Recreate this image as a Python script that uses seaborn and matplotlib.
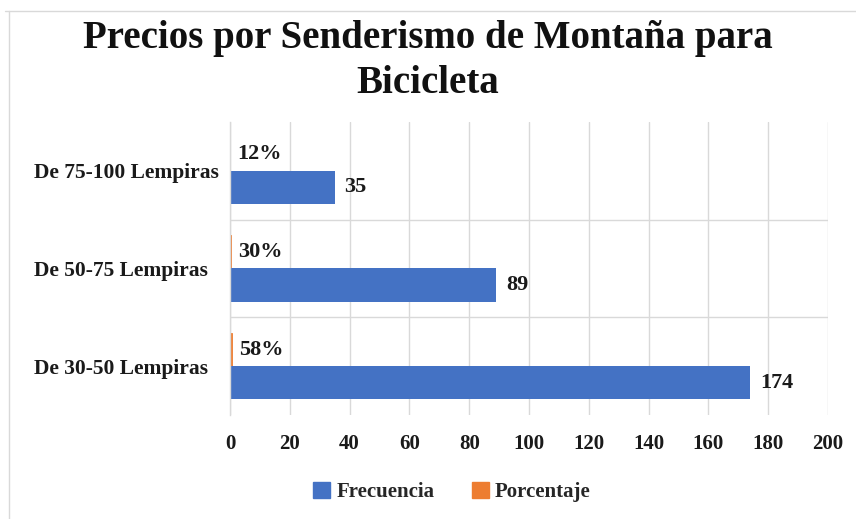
import matplotlib
matplotlib.use("Agg")

import matplotlib.pyplot as plt
import matplotlib.patches as mpatches
import pandas as pd
import seaborn as sns
from matplotlib.lines import Line2D

categories = ["De 75-100 Lempiras", "De 50-75 Lempiras", "De 30-50 Lempiras"]
frecuencia = [35, 89, 174]
porcentaje = [0.12, 0.30, 0.58]
x_ticks = [0, 20, 40, 60, 80, 100, 120, 140, 160, 180, 200]
title = "Precios por Senderismo de Montaña para\nBicicleta"

BLUE = "#4472C4"
ORANGE = "#ED7D31"
GRID = "#d9d9d9"

sns.set_theme(style="white")
plt.rcParams["font.family"] = ["Liberation Serif", "DejaVu Serif"]
plt.rcParams["font.weight"] = "bold"

df = pd.DataFrame({
    "categoria": categories * 2,
    "serie": ["Porcentaje"] * 3 + ["Frecuencia"] * 3,
    "valor": porcentaje + frecuencia,
})

fig = plt.figure(figsize=(8.56, 5.19), dpi=100)
ax = fig.add_axes([230 / 856, 1 - 415 / 519, 598 / 856, 293 / 519])

sns.barplot(
    data=df, y="categoria", x="valor", hue="serie", orient="h",
    order=categories, hue_order=["Porcentaje", "Frecuencia"],
    palette={"Frecuencia": BLUE, "Porcentaje": ORANGE},
    width=0.68, gap=0, saturation=1, dodge=True, linewidth=0, ax=ax,
)

# data labels: containers follow hue_order (Porcentaje first)
pct_cont, frec_cont = ax.containers[0], ax.containers[1]
for bar in pct_cont:
    bar.set_edgecolor(ORANGE)
    bar.set_linewidth(0.6)
ax.bar_label(pct_cont, labels=[f"{v * 100:.0f}%" for v in porcentaje], padding=5,
             fontsize=16, fontweight="bold", color="#1a1a1a")
ax.bar_label(frec_cont, labels=[f"{v}" for v in frecuencia], padding=7,
             fontsize=16, fontweight="bold", color="#1a1a1a")

ax.set_xlim(0, 200)
ax.set_ylim(2.5, -0.5)
ax.set_xticks(x_ticks)
ax.set_xticklabels([str(t) for t in x_ticks], fontsize=15, fontweight="bold")
ax.tick_params(axis="x", length=0, pad=14, colors="#1a1a1a")
ax.set_yticks(range(len(categories)))
ax.set_yticklabels(categories, fontsize=15.5, fontweight="bold", ha="left")
ax.tick_params(axis="y", which="major", length=0, pad=141, colors="#1a1a1a")
ax.set_yticks([-0.5, 0.5, 1.5, 2.5], minor=True)
ax.tick_params(axis="y", which="minor", length=6, width=1, color=GRID, direction="out")
ax.set_xlabel("")
ax.set_ylabel("")

ax.grid(axis="x", color=GRID, linewidth=1)
ax.grid(axis="y", which="minor", color=GRID, linewidth=1)
mt = ax.yaxis.get_minor_ticks()
mt[0].gridline.set_visible(False)
mt[-1].gridline.set_visible(False)
ax.set_axisbelow(True)

for s in ["top", "right", "bottom"]:
    ax.spines[s].set_visible(False)
ax.spines["left"].set_color(GRID)
ax.spines["left"].set_linewidth(1)

# legend in Frecuencia, Porcentaje order
handles = [mpatches.Patch(color=BLUE, label="Frecuencia"),
           mpatches.Patch(color=ORANGE, label="Porcentaje")]
ax.legend(handles=handles, loc="center", bbox_to_anchor=(452 / 856, 1 - 492 / 519),
          bbox_transform=fig.transFigure, ncol=2, frameon=False,
          prop={"family": "Liberation Serif", "weight": "bold", "size": 15},
          handlelength=0.8, handleheight=0.8, handletextpad=0.3, columnspacing=1.8)

fig.suptitle(title, x=0.5, y=1 - 20 / 519, va="top", fontsize=28, fontweight="bold",
             linespacing=1.3, color="#111111")

# chart frame (top and left edges visible)
fig.add_artist(Line2D([5 / 856, 1], [1 - 11 / 519] * 2, transform=fig.transFigure,
                      color=GRID, linewidth=1))
fig.add_artist(Line2D([9 / 856] * 2, [0, 1 - 11 / 519], transform=fig.transFigure,
                      color=GRID, linewidth=1))

plt.savefig("out.png", dpi=100)
plt.close()
